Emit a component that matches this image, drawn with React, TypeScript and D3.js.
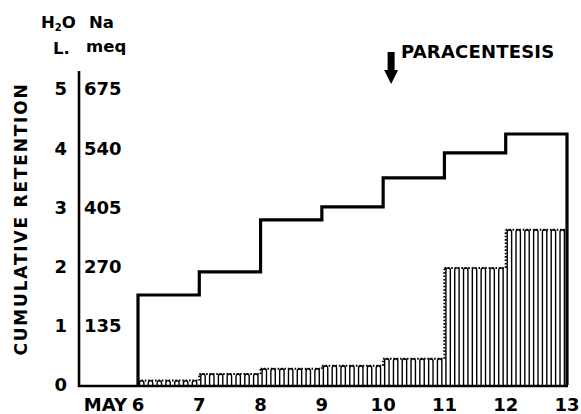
import React from 'react';
import * as d3 from 'd3';

// day boundaries (May 6 .. May 13)
const days = [6, 7, 8, 9, 10, 11, 12, 13];
const dayLabels = ['6', '7', '8', '9', '10', '11', '12', '13'];
// cumulative water retention (litres) for each day interval
const waterLiters = [1.52, 1.91, 2.79, 3.01, 3.5, 3.92, 4.24];
// cumulative sodium retention (meq) for each day interval
const sodiumMeq = [10, 25, 37, 44, 60, 267, 354];
const waterTicks = [0, 1, 2, 3, 4, 5];
const sodiumTicks = [0, 135, 270, 405, 540, 675];
const paracentesisDay = 10.13;

const W = 581;
const H = 414;
const FONT = '"DejaVu Sans", Verdana, sans-serif';

const App: React.FC = () => {
  const x = d3.scaleLinear().domain([6, 13]).range([138, 567]);
  const y = d3.scaleLinear().domain([0, 5]).range([385, 89]);
  const yNa = d3.scaleLinear().domain([0, 675]).range([385, 89]);
  const base = 386;
  const axisX = 79;

  // water step line
  const pts: [number, number][] = [[6, 0]];
  waterLiters.forEach((v, i) => pts.push([days[i], v]));
  pts.push([13, waterLiters[waterLiters.length - 1]]);
  pts.push([13, 0]);
  const stepLine = d3.line<[number, number]>()
    .x(d => x(d[0]))
    .y(d => y(d[1]))
    .curve(d3.curveStepAfter);

  // hatched sodium bars: pairs of vertical strokes joined by a small arch
  const hatch: string[] = [];
  const rises: string[] = [];
  const sp = 4.4;
  sodiumMeq.forEach((v, i) => {
    const x0 = x(days[i]);
    const x1 = x(days[i + 1]);
    const top = yNa(v);
    const r = sp / 2;
    const archTop = Math.min(top + r, base - 0.5);
    for (let a = x0 + 1.5; a + sp <= x1 - 0.5; a += sp * 2) {
      hatch.push(`M${a},${base}V${archTop}A${r},${r} 0 0 1 ${a + sp},${archTop}V${base}`);
    }
    const prev = i === 0 ? base : yNa(sodiumMeq[i - 1]);
    if (i > 0 && prev - top > 3) rises.push(`M${x0},${prev}V${top}`);
    rises.push(`M${x0},${top}H${x1}`);
  });

  const arrowX = x(paracentesisDay);

  return (
    <svg width={W} height={H} style={{ position: 'absolute', left: 0, top: 0, background: '#fff' }}
      fontFamily={FONT} fontWeight="bold">
      <rect width={W} height={H} fill="#fff" />

      {/* header */}
      <text x={41} y={28} fontSize={16.5}>H<tspan fontSize={10} dy={3}>2</tspan><tspan dy={-3}>O</tspan></text>
      <text x={89} y={28} fontSize={16.5}>Na</text>
      <text x={53} y={54} fontSize={16.5}>L.</text>
      <text x={86} y={52} fontSize={16.5}>meq</text>

      {/* y title */}
      <text transform={`translate(27,${219}) rotate(-90)`} textAnchor="middle" fontSize={17}
        letterSpacing={1.8}>CUMULATIVE  RETENTION</text>

      {/* y tick labels */}
      {waterTicks.map(t => (
        <text key={'w' + t} x={67} y={y(t)} dy="0.36em" textAnchor="end" fontSize={18}>{t}</text>
      ))}
      {sodiumTicks.filter(t => t > 0).map(t => (
        <text key={'n' + t} x={84} y={yNa(t)} dy="0.36em" fontSize={18}>{t}</text>
      ))}

      {/* hatched sodium */}
      <path d={hatch.join('')} fill="none" stroke="#000" strokeWidth={1.4} />
      <path d={rises.join('')} fill="none" stroke="#000" strokeWidth={2} strokeDasharray="1.6,1.8" />

      {/* axes */}
      <path d={`M${axisX},71V${base}H${x(13) + 1}`} fill="none" stroke="#000" strokeWidth={2.6} />

      {/* water step */}
      <path d={stepLine(pts) ?? ''} fill="none" stroke="#000" strokeWidth={3.2} strokeLinejoin="miter" />

      {/* x tick labels */}
      {days.map((d, i) => (
        <text key={d} x={x(d)} y={411} textAnchor="middle" fontSize={18}>{dayLabels[i]}</text>
      ))}
      <text x={x(6) - 11} y={411} textAnchor="end" fontSize={18}>MAY</text>

      {/* paracentesis marker */}
      <path d={`M${arrowX - 3.5},52V70H${arrowX - 7}L${arrowX},84L${arrowX + 7},70H${arrowX + 3.5}V52Z`} fill="#000" />
      <text x={401} y={58} fontSize={18} letterSpacing={0.2}>PARACENTESIS</text>
    </svg>
  );
};

export default App;
